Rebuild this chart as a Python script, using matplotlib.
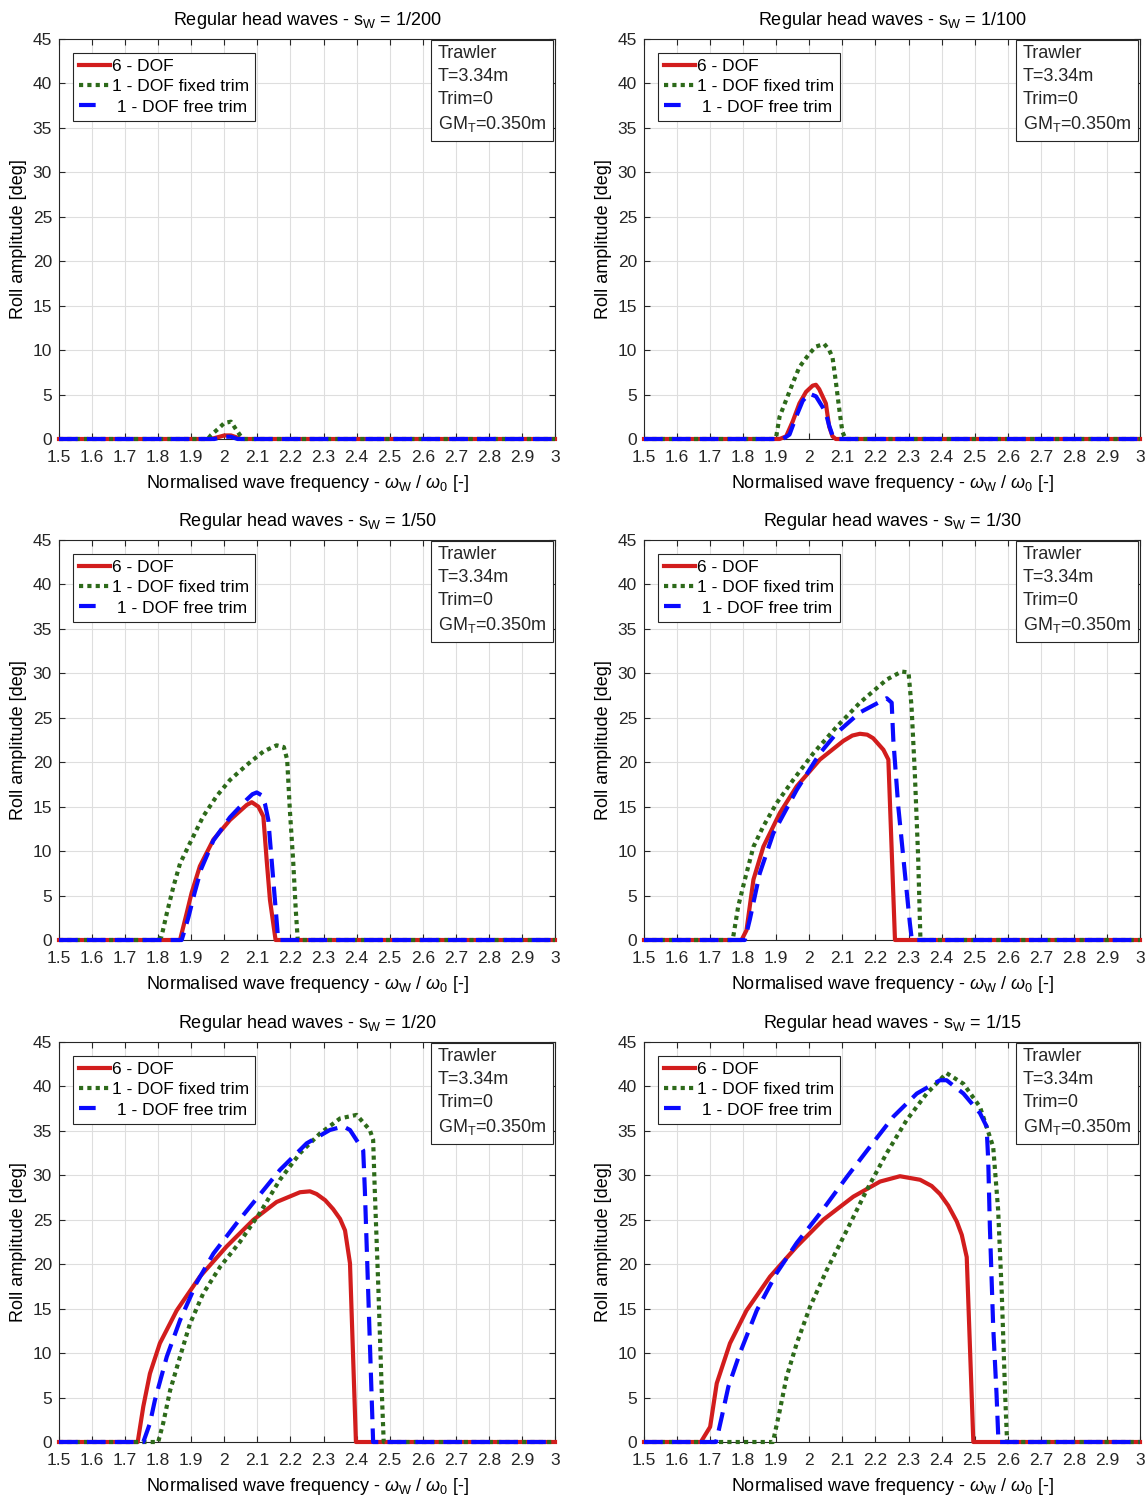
import numpy as np
import matplotlib
matplotlib.use('Agg')
import matplotlib.pyplot as plt
from matplotlib.lines import Line2D

plt.rcParams['font.family'] = ['Liberation Sans', 'DejaVu Sans']
plt.rcParams['mathtext.fontset'] = 'custom'
plt.rcParams['mathtext.rm'] = 'Liberation Sans'
plt.rcParams['mathtext.it'] = 'Liberation Sans:italic'

# wave steepness of each panel
steepness = ['1/200', '1/100', '1/50', '1/30', '1/20', '1/15']

# 6 - DOF
x_6dof = [
    [1.5, 1.96, 1.98, 2.0, 2.02, 2.04, 2.05, 3.0],
    [1.5, 1.91, 1.93, 1.95, 1.97, 1.99, 2.01, 2.02, 2.03, 2.05, 2.06, 2.07, 2.08, 3.0],
    [1.5, 1.866, 1.886, 1.901, 1.926, 1.967, 2.017, 2.068, 2.083, 2.103, 2.118, 2.128, 2.138, 2.155, 3.0],
    [1.5, 1.795, 1.81, 1.831, 1.861, 1.911, 1.962, 2.032, 2.103, 2.13, 2.153, 2.175, 2.193, 2.224, 2.239, 2.259, 3.0],
    [1.5, 1.738, 1.755, 1.775, 1.805, 1.856, 1.926, 2.007, 2.088, 2.158, 2.229, 2.259, 2.279, 2.305, 2.329, 2.35, 2.365, 2.38, 2.398, 3.0],
    [1.5, 1.672, 1.70, 1.72, 1.76, 1.81, 1.881, 1.962, 2.042, 2.133, 2.214, 2.274, 2.335, 2.37, 2.395, 2.42, 2.446, 2.461, 2.476, 2.496, 3.0],
]
y_6dof = [
    [0, 0, 0.2, 0.4, 0.4, 0.15, 0, 0],
    [0, 0, 0.3, 2.0, 4.0, 5.3, 6.0, 6.1, 5.6, 4.0, 1.4, 0.3, 0, 0],
    [0, 0, 3.0, 5.3, 8.3, 11.3, 13.5, 15.2, 15.5, 15.0, 13.9, 9.0, 4.5, 0, 0],
    [0, 0, 1.1, 6.8, 10.5, 14.3, 17.3, 20.3, 22.4, 23.0, 23.2, 23.1, 22.7, 21.4, 20.3, 0, 0],
    [0, 0, 4.0, 7.7, 11.1, 14.8, 18.6, 22.0, 25.0, 27.0, 28.1, 28.2, 27.9, 27.2, 26.2, 25.1, 23.8, 20.1, 0, 0],
    [0, 0, 1.7, 6.6, 11.1, 14.8, 18.6, 22.0, 25.0, 27.6, 29.3, 29.9, 29.5, 28.8, 27.9, 26.6, 24.8, 23.3, 20.8, 0, 0],
]

# 1 - DOF fixed trim
x_fixed = [
    [1.5, 1.95, 1.96, 1.98, 2.0, 2.02, 2.035, 2.05, 2.06, 3.0],
    [1.5, 1.89, 1.90, 1.91, 1.93, 1.95, 1.97, 2.0, 2.02, 2.045, 2.06, 2.07, 2.08, 2.09, 2.10, 2.11, 3.0],
    [1.5, 1.80, 1.81, 1.826, 1.846, 1.866, 1.896, 1.936, 1.977, 2.017, 2.068, 2.118, 2.158, 2.18, 2.19, 2.198, 2.208, 2.216, 2.222, 3.0],
    [1.5, 1.765, 1.77, 1.785, 1.805, 1.831, 1.861, 1.901, 1.951, 2.012, 2.083, 2.153, 2.234, 2.279, 2.30, 2.309, 2.319, 2.329, 2.336, 3.0],
    [1.5, 1.80, 1.815, 1.836, 1.866, 1.896, 1.936, 1.987, 2.047, 2.108, 2.168, 2.229, 2.289, 2.35, 2.40, 2.44, 2.45, 2.455, 2.466, 2.476, 2.482, 3.0],
    [1.5, 1.89, 1.911, 1.931, 1.962, 2.002, 2.052, 2.113, 2.173, 2.234, 2.294, 2.355, 2.415, 2.466, 2.516, 2.556, 2.571, 2.582, 2.592, 2.598, 3.0],
]
y_fixed = [
    [0, 0, 0.45, 1.1, 1.8, 1.95, 1.1, 0.3, 0, 0],
    [0, 0, 0.3, 2.5, 4.4, 6.3, 8.1, 9.6, 10.4, 10.7, 10.0, 9.2, 6.5, 3.5, 0.8, 0, 0],
    [0, 0, 0.4, 3.0, 6.0, 8.6, 10.9, 13.9, 16.2, 18.0, 19.7, 21.2, 21.9, 21.7, 20.3, 14.7, 9.0, 3.4, 0, 0],
    [0, 0, 0.4, 3.8, 6.8, 10.5, 12.8, 15.4, 18.0, 21.0, 24.0, 26.7, 29.3, 30.2, 30.1, 26.3, 18.8, 9.4, 0, 0],
    [0, 0, 2.1, 5.8, 9.6, 13.3, 16.7, 19.7, 22.5, 25.8, 29.5, 32.5, 34.7, 36.4, 36.8, 35.1, 34.0, 28.3, 17.1, 5.8, 0, 0],
    [0, 0, 3.6, 7.3, 11.1, 15.2, 19.3, 23.8, 28.3, 32.5, 36.2, 39.2, 41.5, 40.3, 37.7, 33.2, 26.1, 16.7, 5.5, 0, 0],
]

# 1 - DOF free trim
x_free = [
    [1.5, 1.97, 2.0, 2.02, 2.04, 3.0],
    [1.5, 1.92, 1.94, 1.96, 1.98, 2.0, 2.02, 2.04, 2.05, 2.06, 2.07, 2.08, 3.0],
    [1.5, 1.871, 1.891, 1.91, 1.93, 1.967, 2.017, 2.068, 2.085, 2.098, 2.112, 2.123, 2.133, 2.163, 3.0],
    [1.5, 1.805, 1.82, 1.85, 1.891, 1.962, 2.032, 2.083, 2.153, 2.234, 2.249, 2.254, 2.269, 2.289, 2.304, 2.31, 3.0],
    [1.5, 1.755, 1.775, 1.79, 1.826, 1.866, 1.916, 1.967, 2.037, 2.098, 2.168, 2.249, 2.319, 2.36, 2.38, 2.42, 2.425, 2.45, 3.0],
    [1.5, 1.718, 1.735, 1.755, 1.79, 1.841, 1.901, 1.962, 2.032, 2.113, 2.183, 2.254, 2.325, 2.395, 2.415, 2.466, 2.516, 2.536, 2.541, 2.546, 2.556, 2.566, 2.572, 3.0],
]
y_free = [
    [0, 0, 0.25, 0.25, 0, 0],
    [0, 0, 0.5, 2.5, 4.3, 5.1, 4.8, 3.6, 2.9, 1.5, 0.4, 0, 0],
    [0, 0, 2.5, 5.3, 8.0, 11.2, 13.8, 15.8, 16.4, 16.6, 16.3, 15.3, 13.5, 0, 0],
    [0, 0, 2.3, 7.5, 12.0, 16.9, 21.0, 23.3, 25.6, 27.2, 26.7, 22.5, 15.0, 7.5, 1.9, 0, 0],
    [0, 0, 2.1, 4.7, 9.6, 13.7, 17.9, 21.2, 24.6, 27.4, 30.6, 33.6, 35.1, 35.5, 35.1, 32.8, 28.3, 0, 0],
    [0, 0, 2.8, 6.2, 10.0, 14.8, 19.0, 22.4, 25.7, 29.8, 33.2, 36.6, 39.2, 40.7, 40.7, 39.2, 37.0, 35.5, 31.7, 24.2, 13.0, 5.5, 0, 0],
]

red = '#d21d1d'
green = '#2d6a1a'
blue = '#0a0aff'
lw = 3.0

fig = plt.figure(figsize=(11.48, 15), dpi=100)
lefts = [59 / 1148, 644 / 1148]
bottoms = [1 - 439 / 1500, 1 - 940 / 1500, 1 - 1442 / 1500]
w = 496 / 1148
h = 400 / 1500

xticks = np.round(np.arange(1.5, 3.001, 0.1), 1)
xticklabels = ['%g' % t for t in xticks]

for i in range(6):
    ax = fig.add_axes([lefts[i % 2], bottoms[i // 2], w, h])
    ax.plot(x_6dof[i], y_6dof[i], color=red, lw=lw, clip_on=False, zorder=3)
    ax.plot(x_fixed[i], y_fixed[i], color=green, lw=lw, dashes=(1, 1), clip_on=False, zorder=4)
    ax.plot(x_free[i], y_free[i], color=blue, lw=lw, dashes=(4.5, 2.2), clip_on=False, zorder=5)

    ax.set_xlim(1.5, 3)
    ax.set_ylim(0, 45)
    ax.set_xticks(xticks)
    ax.set_xticklabels(xticklabels)
    ax.set_yticks(np.arange(0, 46, 5))
    ax.tick_params(direction='in', top=True, right=True, length=4, width=0.8,
                   labelsize=12.5, colors='#262626', pad=5)
    ax.tick_params(axis='x', pad=8)
    ax.grid(True, color='#dedede', lw=0.8)
    ax.set_axisbelow(True)
    for sp in ax.spines.values():
        sp.set_color('#262626')
        sp.set_linewidth(0.8)

    ax.set_title('Regular head waves - s$_\\mathrm{W}$ = ' + steepness[i], fontsize=13, pad=10)
    ax.set_xlabel('Normalised wave frequency - $\\omega_\\mathrm{W}$ / $\\omega_0$ [-]', fontsize=13, labelpad=6)
    ax.set_ylabel('Roll amplitude [deg]', fontsize=13, labelpad=4)

    handles = [
        Line2D([], [], color=red, lw=lw),
        Line2D([], [], color=green, lw=lw, dashes=(1, 1)),
        Line2D([], [], color=blue, lw=lw, dashes=(4.0, 8.0)),
    ]
    labels = ['6 - DOF', '1 - DOF fixed trim', ' 1 - DOF free trim']
    leg = ax.legend(handles, labels, loc='upper left', bbox_to_anchor=(0.0276, 0.966),
                    borderaxespad=0, fontsize=12.5, fancybox=False, framealpha=1,
                    edgecolor='#262626', handlelength=1.8, handletextpad=0.1,
                    labelspacing=0.3, borderpad=0.35)
    leg.get_frame().set_linewidth(0.8)

    ax.text(0.983, 0.985, 'Trawler\nT=3.34m\nTrim=0\nGM$_\\mathrm{T}$=0.350m',
            transform=ax.transAxes, ha='right', va='top', multialignment='left',
            fontsize=13, linespacing=1.45, color='#262626',
            bbox=dict(boxstyle='square,pad=0.35', fc='white', ec='#262626', lw=0.8))

fig.savefig('out.png', dpi=100)
